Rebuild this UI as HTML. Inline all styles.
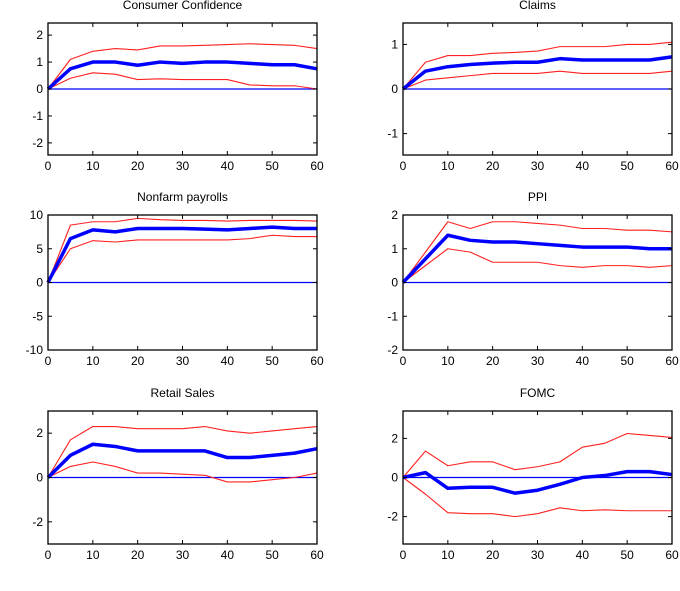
<!DOCTYPE html>
<html><head><meta charset="utf-8"><style>
body{margin:0;background:#fff}
svg{display:block;font-family:"Liberation Sans",sans-serif}
</style></head><body>
<svg id="fig" width="680" height="591" viewBox="0 0 680 591"></svg>
<script>
const horizons=[0,5,10,15,20,25,30,35,40,45,50,55,60];
const xTicks=[0,10,20,30,40,50,60];
const titles=["Consumer Confidence","Claims","Nonfarm payrolls","PPI","Retail Sales","FOMC"];
const ccMid=[0,0.75,1.0,1.0,0.88,1.0,0.95,1.0,1.0,0.95,0.9,0.9,0.75];
const ccUp=[0,1.1,1.4,1.5,1.45,1.6,1.6,1.62,1.65,1.68,1.65,1.62,1.5];
const ccLo=[0,0.4,0.6,0.55,0.35,0.38,0.35,0.35,0.35,0.15,0.12,0.12,0.0];
const clMid=[0,0.4,0.5,0.55,0.58,0.6,0.6,0.68,0.65,0.65,0.65,0.65,0.72];
const clUp=[0,0.6,0.75,0.75,0.8,0.82,0.85,0.95,0.95,0.95,1.0,1.0,1.05];
const clLo=[0,0.2,0.25,0.3,0.35,0.35,0.35,0.4,0.35,0.35,0.35,0.35,0.4];
const nfMid=[0,6.5,7.8,7.5,8,8,8,7.9,7.8,8,8.2,8,8];
const nfUp=[0,8.5,9,9,9.5,9.3,9.2,9.2,9.1,9.2,9.2,9.2,9.1];
const nfLo=[0,5,6.2,6,6.3,6.3,6.3,6.3,6.3,6.5,7,6.8,6.8];
const ppMid=[0,0.7,1.4,1.25,1.2,1.2,1.15,1.1,1.05,1.05,1.05,1.0,1.0];
const ppUp=[0,0.9,1.8,1.6,1.8,1.8,1.75,1.7,1.6,1.6,1.55,1.55,1.5];
const ppLo=[0,0.5,1.0,0.9,0.6,0.6,0.6,0.5,0.45,0.5,0.5,0.45,0.5];
const rsMid=[0,1.0,1.5,1.4,1.2,1.2,1.2,1.2,0.9,0.9,1.0,1.1,1.3];
const rsUp=[0,1.7,2.3,2.3,2.2,2.2,2.2,2.3,2.1,2.0,2.1,2.2,2.3];
const rsLo=[0,0.5,0.7,0.5,0.2,0.2,0.15,0.1,-0.2,-0.2,-0.1,0.0,0.2];
const foMid=[0,0.25,-0.55,-0.5,-0.5,-0.8,-0.65,-0.35,0,0.1,0.3,0.3,0.15];
const foUp=[0,1.35,0.6,0.8,0.8,0.4,0.55,0.8,1.55,1.75,2.25,2.15,2.05];
const foLo=[0,-0.85,-1.8,-1.85,-1.85,-2.0,-1.85,-1.55,-1.7,-1.65,-1.7,-1.7,-1.7];
const yTicksCC=[-2,-1,0,1,2],yTicksCL=[-1,0,1],yTicksNF=[-10,-5,0,5,10],yTicksPP=[-2,-1,0,1,2],yTicksRS=[-2,0,2],yTicksFO=[-2,0,2];
const panels=[
 {name:"consumer-confidence",mid:ccMid,up:ccUp,lo:ccLo,yt:yTicksCC,ymin:-2.45,ymax:2.45,x0:48,x1:317,y0:23,y1:155},
 {name:"claims",mid:clMid,up:clUp,lo:clLo,yt:yTicksCL,ymin:-1.48,ymax:1.48,x0:403,x1:672,y0:23,y1:155},
 {name:"nonfarm-payrolls",mid:nfMid,up:nfUp,lo:nfLo,yt:yTicksNF,ymin:-10,ymax:10,x0:48,x1:317,y0:215,y1:350},
 {name:"ppi",mid:ppMid,up:ppUp,lo:ppLo,yt:yTicksPP,ymin:-2,ymax:2,x0:403,x1:672,y0:215,y1:350},
 {name:"retail-sales",mid:rsMid,up:rsUp,lo:rsLo,yt:yTicksRS,ymin:-3,ymax:3,x0:48,x1:317,y0:411,y1:544},
 {name:"fomc",mid:foMid,up:foUp,lo:foLo,yt:yTicksFO,ymin:-3.4,ymax:3.4,x0:403,x1:672,y0:411,y1:544}
];
const NS="http://www.w3.org/2000/svg";
const svg=document.getElementById('fig');
function mk(tag,attrs,parent){const e=document.createElementNS(NS,tag);for(const k in attrs)e.setAttribute(k,attrs[k]);parent.appendChild(e);return e;}
panels.forEach((p,i)=>{
 const g=mk('g',{},svg);
 
 
 const sx=v=>p.x0+(v-0)/(60-0)*(p.x1-p.x0);
 const sy=v=>p.y1-(v-p.ymin)/(p.ymax-p.ymin)*(p.y1-p.y0);
 const t=mk('text',{x:(p.x0+p.x1)/2,y:p.y0-14,'text-anchor':'middle','font-size':12,fill:'#000'},g);
 t.textContent=titles[i];
 
 
 const zl=mk('line',{x1:p.x0,x2:p.x1,y1:sy(0),y2:sy(0),stroke:'#0000ff','stroke-width':1.3},g);
 
 
 const line=(arr,col,w,nm)=>{
  const pl=mk('polyline',{points:arr.map((v,j)=>sx(horizons[j])+','+sy(v)).join(' '),fill:'none',stroke:col,'stroke-width':w,'stroke-linejoin':'round'},g);
  
  
 };
 line(p.up,'#ff2020',1.1,'upper-band');
 line(p.lo,'#ff2020',1.1,'lower-band');
 line(p.mid,'#0000ff',3.5,'impulse-response');
 const fr=mk('rect',{x:p.x0,y:p.y0,width:p.x1-p.x0,height:p.y1-p.y0,fill:'none',stroke:'#000','stroke-width':1.3},g);
 
 
 xTicks.forEach(v=>{
  mk('line',{x1:sx(v),x2:sx(v),y1:p.y1,y2:p.y1-4,stroke:'#000'},g);
  mk('line',{x1:sx(v),x2:sx(v),y1:p.y0,y2:p.y0+4,stroke:'#000'},g);
  const tl=mk('text',{x:sx(v),y:p.y1+15,'text-anchor':'middle','font-size':12,fill:'#000'},g);
  tl.textContent=v;
  
  
 });
 p.yt.forEach(v=>{
  mk('line',{x1:p.x0,x2:p.x0+4,y1:sy(v),y2:sy(v),stroke:'#000'},g);
  mk('line',{x1:p.x1,x2:p.x1-4,y1:sy(v),y2:sy(v),stroke:'#000'},g);
  const tl=mk('text',{x:p.x0-5,y:sy(v)+4,'text-anchor':'end','font-size':12,fill:'#000'},g);
  tl.textContent=v;
  
  
 });
});
</script>
</body></html>
